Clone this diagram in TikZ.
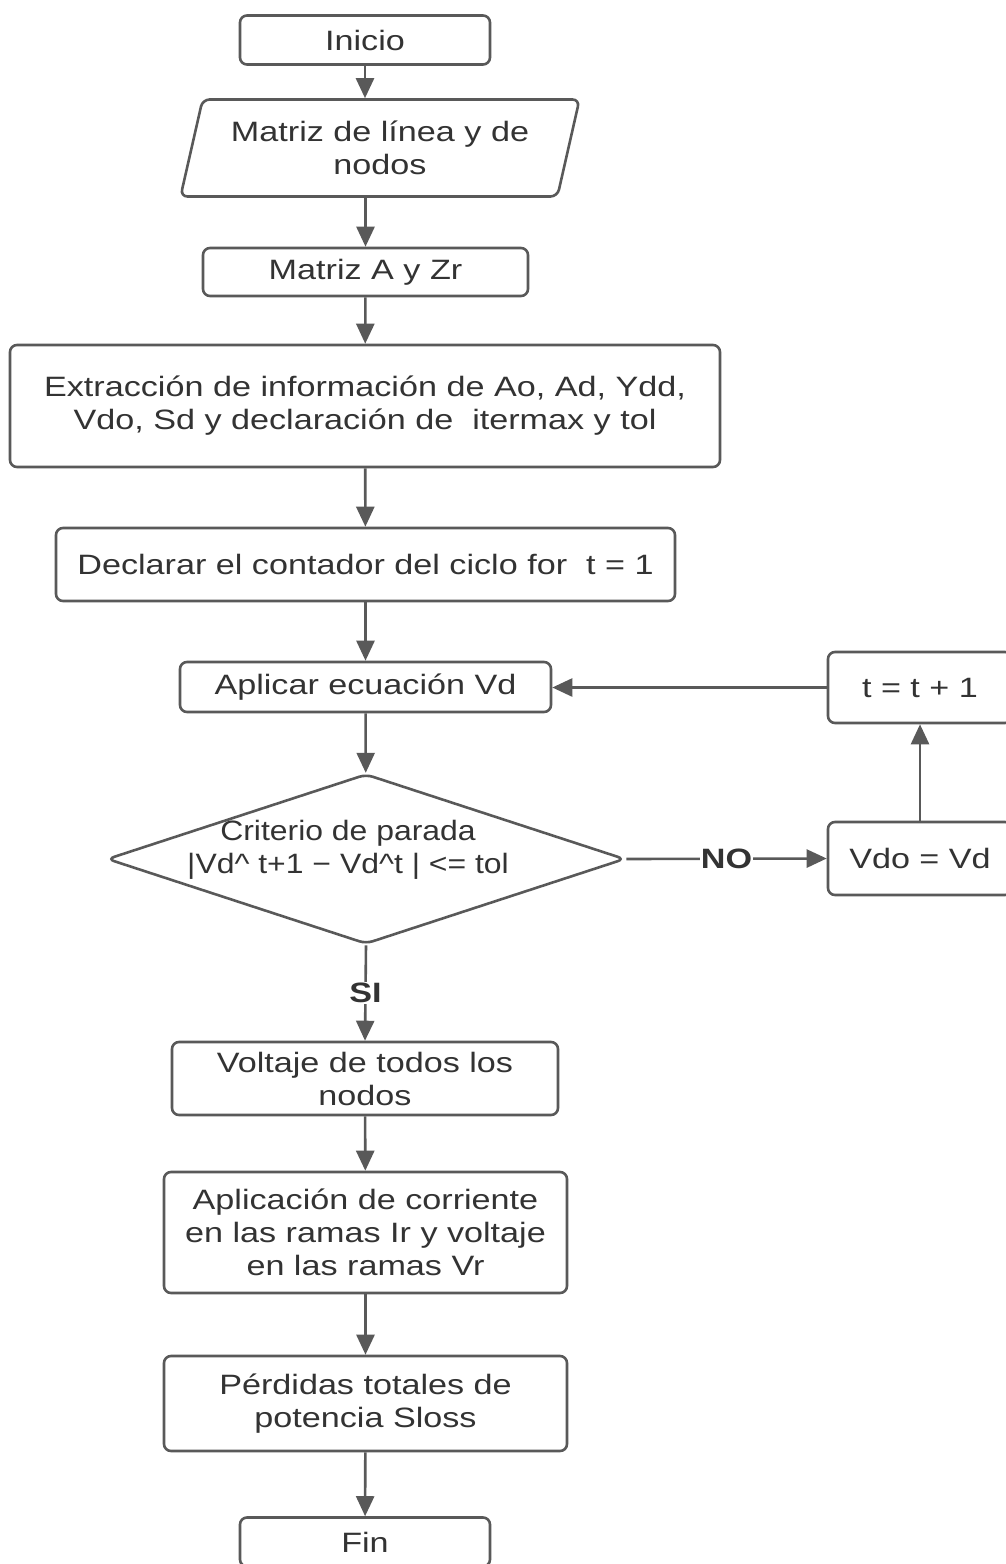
\documentclass[tikz,border=0pt]{standalone}
\usepackage{fontspec}
\setmainfont[FakeStretch=1.22]{Liberation Sans}
\newfontfamily\criteriofont[FakeStretch=1.14]{Liberation Sans}
\usetikzlibrary{shapes.geometric,arrows.meta}
\definecolor{linea}{HTML}{595959}
\definecolor{texto}{HTML}{333333}

\begin{document}
\begin{tikzpicture}[x=1pt,y=-1pt,
  caja/.style={draw=linea, line width=2.6pt, rounded corners=7pt, fill=white,
    text=texto, align=center, inner sep=0pt, font=\fontsize{28}{33}\selectfont},
  flecha/.style={draw=linea, line width=2.6pt, -{Triangle[length=20pt,width=18pt]}},
  etiq/.style={fill=white, inner sep=1pt, text=texto, font=\fontsize{28}{33}\selectfont\bfseries}]
\useasboundingbox (0,0) rectangle (1005,1564);
% ---- main column ----
\node[caja, minimum width=250pt, minimum height=49pt] (inicio) at (365,40) {Inicio};
\node[caja, trapezium, trapezium left angle=71, trapezium right angle=109,
  trapezium stretches=true, minimum width=400pt, minimum height=97pt] (lectura) at (380,148)
  {Matriz de línea y de\\nodos};
\node[caja, minimum width=325pt, minimum height=48pt] (matrizA) at (365.5,272) {Matriz A y Zr};
\node[caja, minimum width=710pt, minimum height=122pt] (extrae) at (365,406)
  {Extracción de información de Ao, Ad, Ydd,\\Vdo, Sd y declaración de\ \ itermax y tol};
\node[caja, minimum width=619pt, minimum height=73pt] (contador) at (365.5,564.5)
  {Declarar el contador del ciclo for\ \ t = 1};
\node[caja, minimum width=371pt, minimum height=50pt] (aplicar) at (365.5,687) {Aplicar ecuación Vd};
\node[caja, diamond, minimum width=518pt, minimum height=170pt] (criterio) at (366,859) {};
\node[align=center, text=texto, font=\fontsize{28}{33}\criteriofont] (criteriotxt) at (348,850)
  {Criterio de parada\\|Vd\textasciicircum{} t+1 − Vd\textasciicircum{}t | <= tol};
\node[caja, minimum width=386pt, minimum height=73pt] (voltaje) at (365,1078.5)
  {Voltaje de todos los\\nodos};
\node[caja, minimum width=403pt, minimum height=121pt] (ramas) at (365.5,1232.5)
  {Aplicación de corriente\\en las ramas Ir y voltaje\\en las ramas Vr};
\node[caja, minimum width=403pt, minimum height=95pt] (perdidas) at (365.5,1403.5)
  {Pérdidas totales de\\potencia Sloss};
\node[caja, minimum width=250pt, minimum height=49pt] (fin) at (365,1542) {Fin};
% ---- loop on the right ----
\node[caja, minimum width=184pt, minimum height=71pt] (incremento) at (920,687.5) {t = t + 1};
\node[caja, minimum width=184pt, minimum height=73pt] (actualiza) at (920,858.5) {Vdo = Vd};
% ---- connectors ----
\draw[flecha] (inicio.south) -- (inicio.south |- lectura.north);
\draw[flecha] (matrizA.north |- lectura.south) -- (matrizA.north);
\draw[flecha] (matrizA) -- (extrae);
\draw[flecha] (extrae) -- (contador);
\draw[flecha] (contador) -- (aplicar);
\draw[flecha] (aplicar) -- (criterio);
\draw[flecha] (criterio.south) -- node[etiq] {SI} (voltaje.north);
\draw[flecha] (voltaje) -- (ramas);
\draw[flecha] (ramas) -- (perdidas);
\draw[flecha] (perdidas) -- (fin);
\draw[flecha] (criterio.east) -- node[etiq] {NO} (actualiza.west);
\draw[flecha] (actualiza.north) -- (incremento.south);
\draw[flecha] (incremento.west) -- (aplicar.east |- incremento.west);
\end{tikzpicture}
\end{document}
